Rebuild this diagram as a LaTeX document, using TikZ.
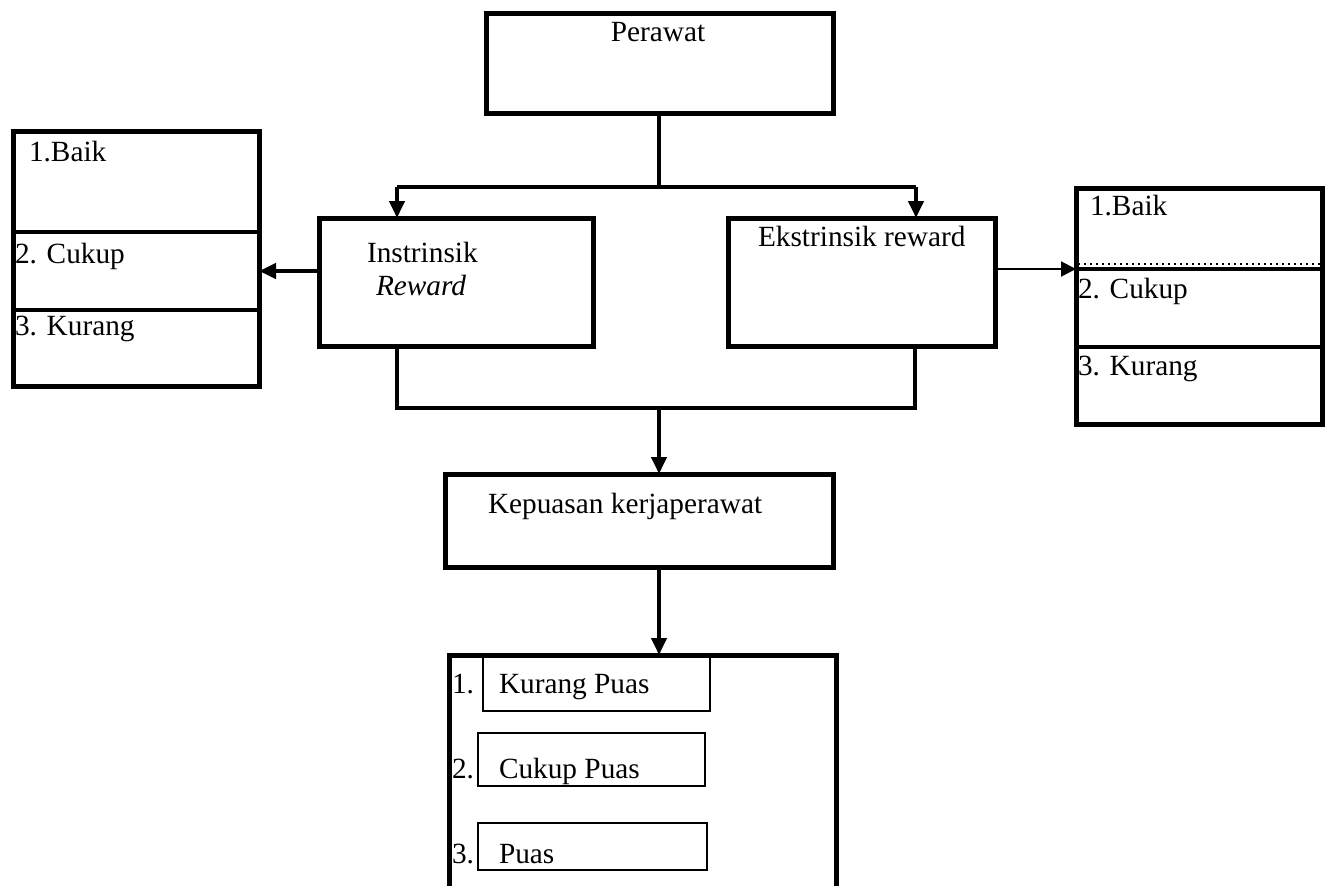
\documentclass[tikz,border=0pt]{standalone}
\usepackage{fontspec}
\setmainfont{Liberation Serif}
\usetikzlibrary{arrows.meta}
\begin{document}
\begin{tikzpicture}[x=0.5pt,y=-0.5pt,
  box/.style={draw,line width=2.5pt,inner sep=0pt,outer sep=0pt,rectangle},
  thinbox/.style={draw,line width=1pt,inner sep=0pt,outer sep=0pt,rectangle},
  lbl/.style={inner sep=0pt,outer sep=0pt,anchor=base west,font=\fontsize{14.65}{17}\selectfont},
  conn/.style={line width=2pt},
  arr/.style={line width=2pt,-{Triangle[length=8.5pt,width=7.5pt]}},
  tarr/.style={line width=1pt,-{Triangle[length=7.5pt,width=7.5pt]}},
  divider/.style={line width=2.2pt}]
\useasboundingbox (0,0) rectangle (1333,885);
% boxes
\node[box,minimum width=173.5pt,minimum height=50pt] (per) at (659.5,63) {};
\node[box,minimum width=137pt,minimum height=64pt] (ins) at (456,282) {};
\node[box,minimum width=133.5pt,minimum height=64pt] (eks) at (861.5,282) {};
\node[box,minimum width=194pt,minimum height=46.5pt] (kep) at (639,520.5) {};
\node[box,minimum width=123pt,minimum height=127.5pt] (ll) at (136,258.5) {};
\node[box,minimum width=123pt,minimum height=118pt] (rl) at (1199,306) {};
% bottom open list box
\coordinate (blt) at (659,655);
\draw[line width=2.5pt] (449,890) -- (449,655) -- (836,655) -- (836,890);
\node[thinbox,minimum width=113.5pt,minimum height=28pt] (kpb) at (596.5,683) {};
\node[thinbox,minimum width=113.5pt,minimum height=26.5pt] (cpb) at (591.5,759.5) {};
\node[thinbox,minimum width=114.5pt,minimum height=23.5pt] (pb) at (592.5,846.5) {};
% dividers
\draw[divider] (ll.west |- 0,232) -- (ll.east |- 0,232);
\draw[divider] (ll.west |- 0,310) -- (ll.east |- 0,310);
\draw[divider] (rl.west |- 0,269) -- (rl.east |- 0,269);
\draw[divider] (rl.west |- 0,347) -- (rl.east |- 0,347);
\draw[line width=1pt,dotted] (1078,264) -- (1322,264);
% texts
\node[lbl,anchor=base] (tper) at (658,41) {Perawat};
\node[lbl] (tins1) at (367,262) {Instrinsik};
\node[lbl] (tins2) at (376,295) {\itshape Reward};
\node[lbl] (teks) at (758,246) {Ekstrinsik reward};
\node[lbl] (tkep) at (488,513) {Kepuasan kerjaperawat};
\node[lbl] (l1) at (29,161) {1.Baik};
\node[lbl] (l2) at (15,263) {2. Cukup};
\node[lbl] (l3) at (15,335) {3. Kurang};
\node[lbl] (r1) at (1090,215) {1.Baik};
\node[lbl] (r2) at (1078,298) {2. Cukup};
\node[lbl] (r3) at (1078,375) {3. Kurang};
\node[lbl] (n1) at (452,693) {1.};
\node[lbl] (k1) at (499,693) {Kurang Puas};
\node[lbl] (n2) at (452,778) {2.};
\node[lbl] (k2) at (499,778) {Cukup Puas};
\node[lbl] (n3) at (452,863) {3.};
\node[lbl] (k3) at (499,863) {Puas};
% connectors
\coordinate (mid) at (659,0);
\coordinate (jl) at (397,187);
\coordinate (jr) at (916,187);
\coordinate (bl) at (397,408);
\coordinate (br) at (915,408);
\draw[conn] (per.south -| mid) -- (mid |- jl);
\draw[conn] (jl) -- (jr);
\draw[arr] (jl) -- (jl |- ins.north);
\draw[arr] (jr) -- (jr |- eks.north);
\draw[conn] (bl |- ins.south) -- (bl) -- (br) -- (br |- eks.south);
\draw[arr] (mid |- bl) -- (kep.north -| mid);
\draw[arr] (kep.south -| mid) -- (blt);
\coordinate (la) at (0,271);
\draw[arr] (ins.west |- la) -- (ll.east |- la);
\coordinate (ra) at (0,269);
\draw[tarr] (eks.east |- ra) -- (rl.west |- ra);
\end{tikzpicture}
\end{document}
